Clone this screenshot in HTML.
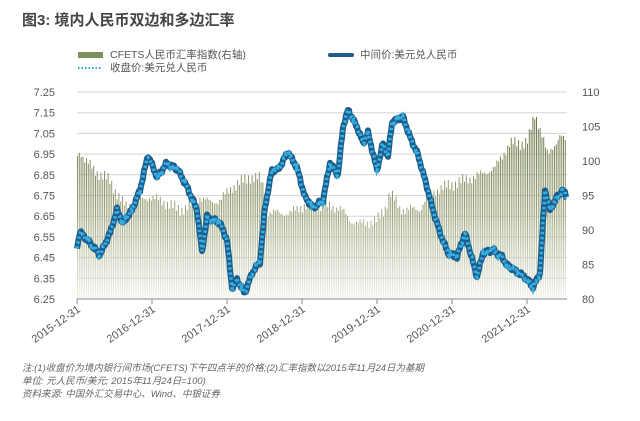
<!DOCTYPE html>
<html><head><meta charset="utf-8"><style>
body{margin:0;background:#fff;width:640px;height:416px;overflow:hidden;font-family:"Liberation Sans","Noto Sans CJK SC",sans-serif}
</style></head><body>
<svg id="s" width="640" height="416" xmlns="http://www.w3.org/2000/svg" font-family="Liberation Sans, Noto Sans CJK SC, sans-serif">
<defs><linearGradient id="g" gradientUnits="userSpaceOnUse" x1="0" y1="100" x2="0" y2="299">
<stop offset="0" stop-color="#5f6d3c"/><stop offset="0.55" stop-color="#9ca57c"/><stop offset="1" stop-color="#f2f3ec"/></linearGradient></defs>
<text x="22" y="25" font-size="15" font-weight="bold" fill="#444">图3: 境内人民币双边和多边汇率</text>
<rect x="78" y="52" width="25" height="6" fill="#7d8f5c"/>
<text x="110" y="58" font-size="10.5" fill="#555">CFETS人民币汇率指数(右轴)</text>
<line x1="330" y1="55" x2="352" y2="55" stroke="#1e5a8c" stroke-width="4" stroke-linecap="round"/>
<text x="360" y="58" font-size="10.5" fill="#555">中间价:美元兑人民币</text>
<line x1="78" y1="68" x2="102" y2="68" stroke="#2aa3c8" stroke-width="2" stroke-dasharray="1.5 2"/>
<text x="110" y="71" font-size="10.5" fill="#555">收盘价:美元兑人民币</text>
<g id="grid"></g><g id="bars"></g><g id="lines"></g><g id="ax"></g>
<text x="22" y="371" font-size="9.5" font-style="italic" fill="#666">注:(1)收盘价为境内银行间市场(CFETS)下午四点半的价格;(2)汇率指数以2015年11月24日为基期</text>
<text x="22" y="384" font-size="9.5" font-style="italic" fill="#666">单位: 元人民币/美元; 2015年11月24日=100)</text>
<text x="22" y="397" font-size="9.5" font-style="italic" fill="#666">资料来源: 中国外汇交易中心、Wind、中银证券</text>
</svg>
<script>
var NS="http://www.w3.org/2000/svg";
function el(p,t,a,txt){var e=document.createElementNS(NS,t);for(var k in a)e.setAttribute(k,a[k]);if(txt!==undefined)e.textContent=txt;document.getElementById(p).appendChild(e);return e;}
var X0=77,X1=567,Y0=92,Y1=299;
for(var i=0;i<=10;i++){var y=Y0+i*(Y1-Y0)/10;
 if(i<10)el("grid","line",{x1:X0,x2:X1,y1:y,y2:y,stroke:"#d4d4d4","stroke-width":1});
 el("ax","text",{x:55,y:y+4,"font-size":11,fill:"#555","text-anchor":"end"},(7.25-i*0.1).toFixed(2));}
for(var i=0;i<=6;i++){var y=Y0+i*(Y1-Y0)/6;el("ax","text",{x:582,y:y+4,"font-size":11,fill:"#555"},String(110-i*5));}
el("ax","line",{x1:X0,x2:X1,y1:Y1,y2:Y1,stroke:"#888","stroke-width":1});
var yrs=["2015","2016","2017","2018","2019","2020","2021"];
for(var i=0;i<7;i++){var x=77+i*75;el("ax","line",{x1:x,x2:x,y1:Y1,y2:Y1+5,stroke:"#888"});
 el("ax","text",{x:x+4,y:Y1+12,"font-size":11,fill:"#555","text-anchor":"end",transform:"rotate(-35 "+(x+4)+" "+(Y1+12)+")"},yrs[i]+"-12-31");}
var B=[[77,100.9],[80,101.5],[85,100],[90,99.4],[100,98],[110,97.2],[118,95],[125,93.5],[140,94.3],[150,94.8],[165,94],[180,92.9],[190,93.5],[200,94.8],[210,94],[220,94.3],[232,96.2],[250,97.7],[260,97.5],[264,96],[266,92.6],[290,92.4],[300,93.4],[320,93.6],[340,93.2],[350,91.4],[360,90.9],[377,91.4],[385,93],[390,95.5],[400,93],[420,93],[428,95],[440,96],[460,97],[480,98],[495,99],[510,102.6],[520,102.5],[528,103],[535,106.7],[542,104],[548,100.6],[555,102.5],[560,103.8],[567,102.5]];
function interp(A,x){for(var i=1;i<A.length;i++)if(x<=A[i][0]){var a=A[i-1],b=A[i];return a[1]+(b[1]-a[1])*(x-a[0])/(b[0]-a[0]);}return A[A.length-1][1];}
for(var x=77.5;x<=567;x+=1.8){var v=interp(B,x)+Math.sin(x*1.7)*0.6+Math.sin(x*0.37)*0.4;var y=Y0+(110-v)*6.9;
 el("bars","line",{x1:x,x2:x,y1:y,y2:Y1,stroke:"url(#g)","stroke-width":1});}
var L=[[77,247],[80,232],[90,243],[100,255],[110,233],[117,210],[123,223],[132,210],[140,190],[148,155],[157,177],[167,163],[178,170],[187,187],[197,210],[202,252],[207,217],[220,223],[227,240],[232,288],[237,280],[245,293],[252,273],[260,262],[265,207],[272,170],[278,170],[288,152],[297,168],[305,197],[313,208],[323,200],[330,163],[338,175],[343,127],[348,110],[357,127],[363,143],[368,133],[377,170],[383,143],[388,157],[392,122],[403,117],[410,137],[418,155],[427,187],[433,210],[440,233],[448,253],[457,257],[465,233],[477,277],[483,253],[493,250],[502,257],[507,265],[517,272],[525,277],[533,287],[540,273],[545,190],[550,210],[557,197],[563,190],[567,197]];
var pts=[];for(var x=77;x<=567;x+=1){var y=interp(L,x)+Math.sin(x*2.3)*1.5+Math.sin(x*0.9)*1.2;pts.push(x+","+y.toFixed(1));}
el("lines","polyline",{points:pts.join(" "),fill:"none",stroke:"#1d5d8c","stroke-width":6,"stroke-linejoin":"round"});
el("lines","polyline",{points:pts.join(" "),fill:"none",stroke:"#35aee0","stroke-width":3.5,"stroke-dasharray":"2.5 2.5"});
</script>
</body></html>
